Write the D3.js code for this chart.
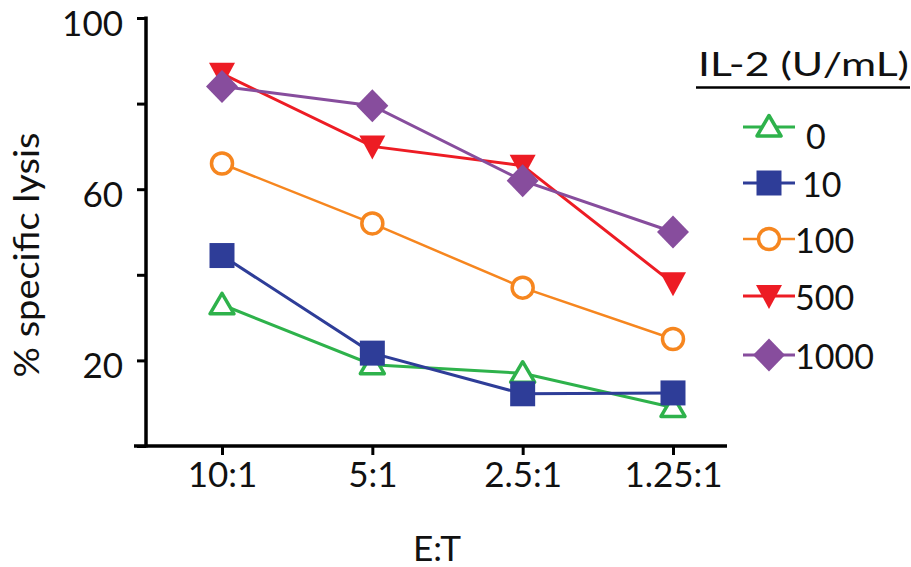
<!DOCTYPE html>
<html><head><meta charset="utf-8">
<script src="https://cdn.jsdelivr.net/npm/d3@7"></script>
<style>body{margin:0;background:#fff}svg{display:block}text{font-family:Lato,"Open Sans",sans-serif;fill:#111}</style>
</head><body><svg id="c" width="911" height="567"></svg>
<script>
const categories = ["10:1", "5:1", "2.5:1", "1.25:1"];
const seriesNames = ["0", "10", "100", "500", "1000"];
const v0    = [33, 19, 17, 9];
const v10   = [44.5, 21.7, 12.2, 12.4];
const v100  = [66, 52, 37, 25];
const v500  = [87, 70, 65.5, 38];
const v1000 = [84, 79.5, 62, 50];
const yTicks = [0, 20, 40, 60, 80, 100];
const yTickLabels = ["", "20", "", "60", "", "100"];
const legendTitle = "IL-2 (U/mL)";
const xTitle = "E:T";
const yTitle = "% specific lysis";

const series = [
  {name: seriesNames[0], values: v0,    color: "#2eb24b", shape: "triUpOpen",  lw: 3},
  {name: seriesNames[1], values: v10,   color: "#2e3d98", shape: "square",     lw: 3},
  {name: seriesNames[2], values: v100,  color: "#f6861f", shape: "circleOpen", lw: 2.5},
  {name: seriesNames[3], values: v500,  color: "#ed1c24", shape: "triDown",    lw: 3},
  {name: seriesNames[4], values: v1000, color: "#874d9d", shape: "diamond",    lw: 3}
];

const svg = d3.select("#c");
const x = d3.scalePoint().domain(categories).range([222, 673]);
const y = d3.scaleLinear().domain([0, 100]).range([446, 18]);

// axes
const gy = svg.append("g").attr("transform", "translate(146,0)")
  .call(d3.axisLeft(y).tickValues(yTicks).tickFormat((d, i) => yTickLabels[i]).tickSize(9).tickPadding(14));
gy.select(".domain").remove();
gy.selectAll(".tick line").attr("stroke", "#000").attr("stroke-width", 3);
gy.selectAll(".tick text").style("font-size", "35px").attr("fill", "#111").attr("dy", "0.5em");
svg.append("line").attr("x1", 146).attr("x2", 146).attr("y1", y(100) - 1.5).attr("y2", y(0) + 1.5)
  .attr("stroke", "#000").attr("stroke-width", 3.5);

const gx = svg.append("g").attr("transform", "translate(0," + y(0) + ")")
  .call(d3.axisBottom(x).tickSize(9).tickPadding(7));
gx.select(".domain").remove();
gx.selectAll(".tick line").attr("stroke", "#000").attr("stroke-width", 3);
gx.selectAll(".tick text").style("font-size", "35px").attr("fill", "#111");
svg.append("line").attr("x1", 134).attr("x2", 727).attr("y1", y(0)).attr("y2", y(0))
  .attr("stroke", "#000").attr("stroke-width", 3.5);

svg.append("text").attr("x", 437).attr("y", 561).attr("text-anchor", "middle")
  .style("font-size", "34px").attr("textLength", 48).attr("lengthAdjust", "spacingAndGlyphs").text(xTitle);
svg.append("text").attr("transform", "translate(39,255) rotate(-90)").attr("text-anchor", "middle")
  .style("font-size", "35px").attr("textLength", 245).attr("lengthAdjust", "spacingAndGlyphs").text(yTitle);

function markerPath(shape) {
  switch (shape) {
    case "triUpOpen": return "M0,-11.5L12,9L-12,9Z";
    case "triDown": return "M-13,-11L13,-11L0,13Z";
    case "square": return "M-12.5,-12.5H12.5V12.5H-12.5Z";
    case "diamond": return "M0,-16.5L16,0L0,16.5L-16,0Z";
    case "circleOpen": return d3.symbol(d3.symbolCircle, Math.PI * 10.5 * 10.5)();
  }
}
function drawMarker(g, s) {
  const open = s.shape === "triUpOpen" || s.shape === "circleOpen";
  g.append("path").attr("d", markerPath(s.shape))
    .attr("fill", open ? "#fff" : s.color)
    .attr("stroke", s.color)
    .attr("stroke-width", open ? 3.5 : 0)
    .attr("stroke-linejoin", "round");
}

const line = d3.line().x((d, i) => x(categories[i])).y(d => y(d));
series.forEach(s => {
  const g = svg.append("g");
  g.append("path").attr("d", line(s.values)).attr("fill", "none")
    .attr("stroke", s.color).attr("stroke-width", s.lw);
  s.values.forEach((v, i) => {
    const m = g.append("g").attr("transform", `translate(${x(categories[i])},${y(v)})`);
    drawMarker(m, s);
  });
});

// legend
svg.append("text").attr("x", 698).attr("y", 76).style("font-size", "32px")
  .attr("textLength", 211).attr("lengthAdjust", "spacingAndGlyphs").text(legendTitle);
svg.append("line").attr("x1", 696).attr("x2", 910).attr("y1", 87.5).attr("y2", 87.5)
  .attr("stroke", "#000").attr("stroke-width", 2.5);
const legendY = [127, 183, 239, 296, 355];
series.forEach((s, i) => {
  const g = svg.append("g").attr("transform", `translate(769,${legendY[i]})`);
  g.append("line").attr("x1", -26).attr("x2", 26).attr("stroke", s.color).attr("stroke-width", s.lw);
  drawMarker(g, s);
  svg.append("text").attr("x", i === 0 ? 806 : (i === 1 ? 802 : 795)).attr("y", legendY[i] + (i === 0 ? 8 : 0))
    .attr("dominant-baseline", "central").style("font-size", "34px").text(s.name);
});
</script></body></html>
